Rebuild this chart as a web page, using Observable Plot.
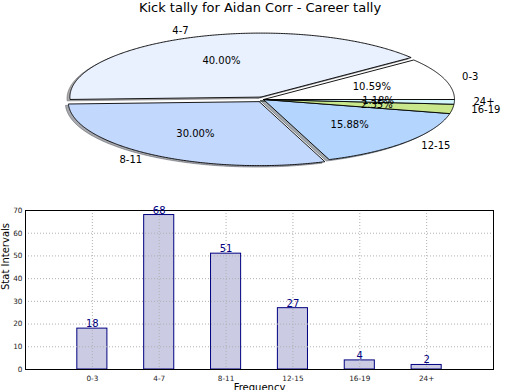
<!DOCTYPE html>
<html>
<head>
<meta charset="utf-8">
<script src="https://cdn.jsdelivr.net/npm/d3@7"></script>
<script src="https://cdn.jsdelivr.net/npm/@observablehq/plot@0.6"></script>
<style>
  html, body { margin: 0; padding: 0; background: #fff; width: 520px; height: 390px; overflow: hidden; }
  #title { height: 20px; line-height: 20px; text-align: center; font: 13px "DejaVu Sans", sans-serif; color: #000; }
  svg { display: block; }
</style>
</head>
<body>
<div id="title">Kick tally for Aidan Corr - Career tally</div>
<div id="pie"></div>
<div id="bar"></div>
<script>
// ---- data ----
const categories = ["0-3", "4-7", "8-11", "12-15", "16-19", "24+"];
const tallies = [18, 68, 51, 27, 4, 2];
const sliceColors = ["#ffffff", "#e9f0fe", "#c3d8fd", "#b3d5fe", "#c9e88c", "#d2f6fb"];
const explode = [0, 0.04, 0.04, 0, 0, 0];
const yTicks = [0, 10, 20, 30, 40, 50, 60, 70];

// ---- pie (elliptical, exploded, with shadows) ----
const total = d3.sum(tallies);
let acc = 0;
const wedges = categories.map((c, i) => {
  const a0 = acc / total * 2 * Math.PI;
  acc += tallies[i];
  const a1 = acc / total * 2 * Math.PI;
  const mid = (a0 + a1) / 2;
  const cx = explode[i] * Math.cos(mid), cy = explode[i] * Math.sin(mid);
  const n = Math.max(3, Math.ceil((a1 - a0) / (Math.PI / 360)));
  const pts = [{x: cx, y: cy}];
  for (let k = 0; k <= n; k++) {
    const a = a0 + (a1 - a0) * k / n;
    pts.push({x: cx + Math.cos(a), y: cy + Math.sin(a)});
  }
  pts.push({x: cx, y: cy});
  const rgb = d3.rgb(sliceColors[i]);
  const shadow = d3.rgb(rgb.r * 0.3, rgb.g * 0.3, rgb.b * 0.3).formatHex();
  return {
    cat: c, pct: (tallies[i] / total * 100).toFixed(2) + "%", pts, color: sliceColors[i], shadow,
    lx: cx + 1.1 * Math.cos(mid), ly: cy + 1.1 * Math.sin(mid),
    px: cx + 0.6 * Math.cos(mid), py: cy + 0.6 * Math.sin(mid)
  };
});

const pieW = 520, pieH = 180, cxPx = 263, cyPx = 79, rxPx = 191, ryPx = 64;
const sdx = -0.015, sdy = -0.022;

const pieMarks = [];
for (const w of wedges) {
  pieMarks.push(Plot.line(w.pts.map(p => ({x: p.x + sdx, y: p.y + sdy})), {
    x: "x", y: "y", fill: w.shadow, stroke: w.shadow, fillOpacity: 0.45, strokeOpacity: 0.45, strokeWidth: 1, curve: "linear"
  }));
}
for (const w of wedges) {
  pieMarks.push(Plot.line(w.pts, {
    x: "x", y: "y", fill: w.color, stroke: "#000", strokeWidth: 0.9, strokeLinejoin: "miter", curve: "linear"
  }));
}
pieMarks.push(Plot.text(wedges.filter(w => w.lx < 0), {x: "lx", y: "ly", text: "cat", textAnchor: "end", fontSize: 10, fill: "#000"}));
pieMarks.push(Plot.text(wedges.filter(w => w.lx >= 0), {x: "lx", y: "ly", text: "cat", textAnchor: "start", fontSize: 10, fill: "#000"}));
pieMarks.push(Plot.text(wedges, {x: "px", y: "py", text: "pct", textAnchor: "middle", fontSize: 10, fill: "#000"}));

const pie = Plot.plot({
  width: pieW, height: pieH,
  marginTop: 0, marginBottom: 0, marginLeft: 0, marginRight: 0,
  x: {domain: [-cxPx / rxPx, (pieW - cxPx) / rxPx], range: [0, pieW]},
  y: {domain: [(cyPx - pieH) / ryPx, cyPx / ryPx], range: [pieH, 0]},
  axis: null,
  style: {fontFamily: "DejaVu Sans", background: "white", overflow: "visible"},
  marks: pieMarks
});
document.getElementById("pie").appendChild(pie);

// ---- bar chart ----
const barData = categories.map((c, i) => ({i, cat: c, v: tallies[i]}));
const halfW = 0.225;

const bar = Plot.plot({
  width: 520, height: 190,
  marginTop: 10, marginBottom: 21, marginLeft: 25, marginRight: 27,
  x: {domain: [-1, categories.length], label: null},
  y: {domain: [0, 70], label: null},
  style: {fontFamily: "DejaVu Sans", background: "white"},
  marks: [
    Plot.rectY(barData, {x1: d => d.i - halfW, x2: d => d.i + halfW, y1: 0, y2: "v", fill: "#cbcbe3", stroke: "#000080", strokeWidth: 1}),
    Plot.ruleX(d3.range(categories.length), {stroke: "#b0b0b0", strokeDasharray: "1,2", strokeWidth: 1}),
    Plot.ruleY(yTicks.slice(1, -1), {stroke: "#b0b0b0", strokeDasharray: "1,2", strokeWidth: 1}),
    Plot.frame({stroke: "#000", strokeWidth: 1}),
    Plot.axisX(d3.range(categories.length), {tickFormat: i => categories[i], tickSize: 0, tickPadding: 6, fontSize: 7.3, fill: "#222", label: null}),
    Plot.axisY(yTicks, {tickSize: 0, tickPadding: 3, fontSize: 7.3, fill: "#222", label: null}),
    Plot.text(barData, {x: "i", y: "v", text: d => String(d.v), lineAnchor: "bottom", dy: -1.5, fontSize: 10, fill: "#000080"}),
    Plot.text(["Stat Intervals"], {frameAnchor: "left", rotate: -90, dx: -20, fontSize: 10, fill: "#000"}),
    Plot.text(["Frequency"], {frameAnchor: "bottom", dy: 21, fontSize: 10, fill: "#000"})
  ]
});
document.getElementById("bar").appendChild(bar);
</script>
</body>
</html>
